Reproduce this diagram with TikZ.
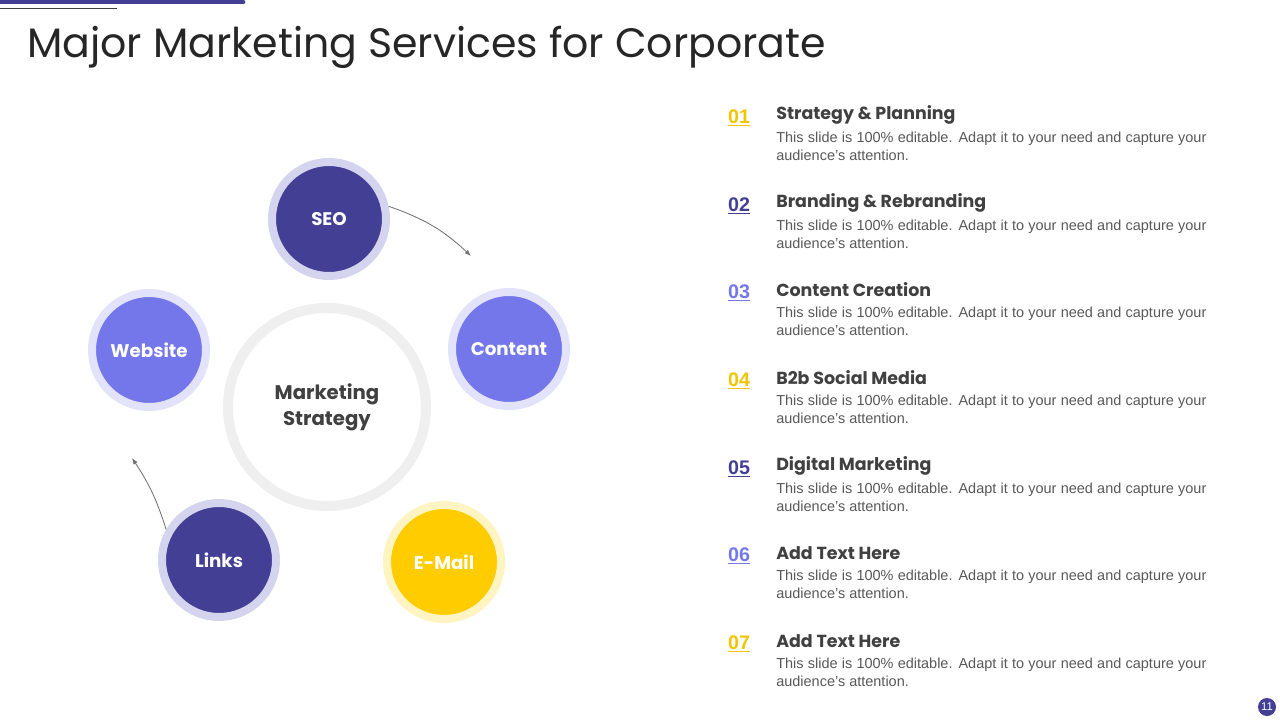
\documentclass[tikz,border=0pt]{standalone}
\usepackage{fontspec}
\setmainfont{Liberation Sans}
\newfontfamily\gothic{Poppins}
\usetikzlibrary{arrows.meta,positioning}
\definecolor{indigo}{HTML}{433F94}
\definecolor{indigoring}{HTML}{D5D4EF}
\definecolor{peri}{HTML}{7377EA}
\definecolor{periring}{HTML}{E2E2FB}
\definecolor{gold}{HTML}{FFCC00}
\definecolor{goldring}{HTML}{FFF4C2}
\definecolor{hubgray}{HTML}{EFEFEF}
\definecolor{inkdark}{HTML}{262626}
\definecolor{inkhead}{HTML}{404040}
\definecolor{inkbody}{HTML}{595959}
\definecolor{numgold}{HTML}{F2C500}
\tikzset{
  bubble/.style={circle, minimum size=2.85cm, line width=0.2cm, inner sep=0pt,
                 text=white, font=\gothic\bfseries\fontsize{13}{15}\selectfont},
  dark/.style={bubble, fill=indigo, draw=indigoring},
  lite/.style={bubble, fill=peri, draw=periring},
  sun/.style={bubble, fill=gold, draw=goldring},
  flow/.style={-{Latex[length=1.6mm]}, draw=black!55, semithick},
  num/.style={font=\bfseries\fontsize{14}{16}\selectfont, inner sep=0pt},
  head/.style={font=\gothic\bfseries\fontsize{12.4}{15}\selectfont, text=inkhead, inner sep=0pt},
  body/.style={font=\fontsize{10.3}{12.8}\selectfont, text=inkbody, inner sep=0pt,
               text width=10.75cm, align=justify},
}
\begin{document}
\begin{tikzpicture}[x=0.025cm, y=-0.025cm]
  \useasboundingbox[fill=white] (0,0) rectangle (1280,720);
  % top rule and title
  \draw[indigo, line width=0.12cm, line cap=round] (0,2) -- (243,2);
  \draw[inkhead, line width=0.02cm] (0,8) -- (117,8);
  \node[anchor=west, inner sep=0pt, text=inkdark, font=\gothic\fontsize{29.2}{34}\selectfont] (title) at (27,47) {Major Marketing Services for Corporate};
  % hub and satellites
  \node[circle, draw=hubgray, line width=0.25cm, minimum size=4.95cm, align=center,
        text=inkhead, font=\gothic\bfseries\fontsize{14}{18.5}\selectfont] (hub) at (327,407) {Marketing\\Strategy};
  \node[dark] (seo) at (329,219) {SEO};
  \node[lite] (content) at (509,349) {Content};
  \node[sun] (mail) at (444,562) {E-Mail};
  \node[dark] (links) at (219,560) {Links};
  \node[lite] (web) at (149,350) {Website};
  \coordinate (seoend) at (471,256);
  \coordinate (linksend) at (132,458);
  \draw[flow] (seo.12) to[bend left=12] (seoend);
  \draw[flow] (links.150) to[bend right=8] (linksend);
  % numbered list
  \foreach \n/\y/\c/\t in {01/113/numgold/Strategy \& Planning,
                           02/201/indigo/Branding \& Rebranding,
                           03/288/peri/Content Creation,
                           04/376/numgold/B2b Social Media,
                           05/464/indigo/Digital Marketing,
                           06/551/peri/Add Text Here,
                           07/639/numgold/Add Text Here} {
    \node[num, text=\c] (n\n) at (739,\y+5) {\underline{\n}};
    \node[head, anchor=west] (h\n) at (776,\y+2) {\t};
    \node[body, anchor=north west] (b\n) at (776,\y+19) {This slide is 100\% editable. Adapt it to your need and capture your audience’s attention.};
  }
  % page number
  \node[circle, fill=indigo, minimum size=0.45cm, inner sep=0pt, text=white,
        font=\fontsize{8}{9}\selectfont] (page) at (1267,707) {11};
\end{tikzpicture}
\end{document}
